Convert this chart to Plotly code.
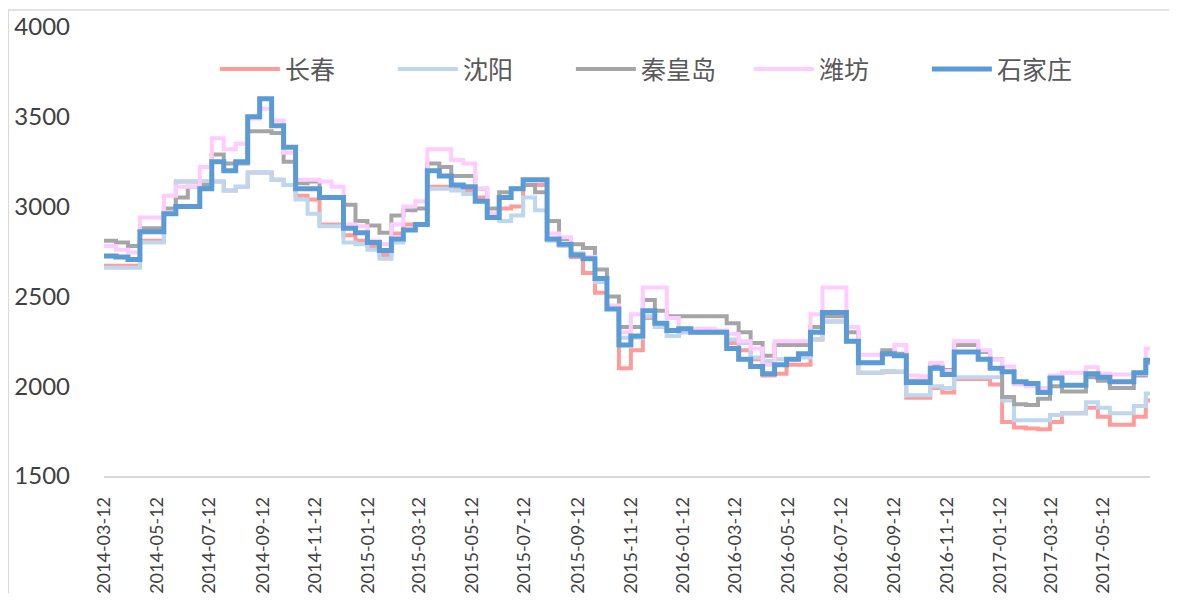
"""Steel price curves by city (step lines)"""

import pandas as pd
import plotly.graph_objects as go

# roughly biweekly sample dates
start_date = "2014-03-12"
last_sample = "2017-07-14"
end_date = "2017-07-05"

tick_labels = [
    "2014-03-12", "2014-05-12", "2014-07-12", "2014-09-12", "2014-11-12",
    "2015-01-12", "2015-03-12", "2015-05-12", "2015-07-12", "2015-09-12",
    "2015-11-12", "2016-01-12", "2016-03-12", "2016-05-12", "2016-07-12",
    "2016-09-12", "2016-11-12", "2017-01-12", "2017-03-12", "2017-05-12",
]

changchun = [
    2670, 2670, 2670, 2810, 2810, 2960, 3140, 3140, 3140, 3140,
    3090, 3110, 3190, 3190, 3150, 3120, 3060, 3040, 2900, 2900,
    2840, 2810, 2780, 2730, 2850, 2900, 2900, 3110, 3110, 3100,
    3090, 3050, 2960, 2990, 3000, 3120, 3120, 2820, 2790, 2720,
    2630, 2520, 2440, 2100, 2200, 2380, 2330, 2280, 2300, 2300,
    2300, 2300, 2240, 2200, 2150, 2060, 2070, 2120, 2120, 2260,
    2360, 2360, 2250, 2075, 2075, 2080, 2080, 1935, 1935, 1990,
    1965, 2040, 2040, 2040, 2010, 1800, 1770, 1765, 1760, 1800,
    1850, 1850, 1880, 1830, 1785, 1785, 1830, 1920, 1920,
]
shenyang = [
    2660, 2660, 2660, 2800, 2800, 2960, 3140, 3140, 3140, 3140,
    3090, 3110, 3190, 3190, 3150, 3120, 3040, 2960, 2890, 2890,
    2800, 2790, 2760, 2710, 2800, 2870, 2900, 3100, 3100, 3090,
    3070, 3030, 2950, 2920, 2950, 3050, 2980, 2810, 2780, 2740,
    2720, 2580, 2430, 2270, 2270, 2390, 2330, 2280, 2300, 2300,
    2300, 2300, 2260, 2240, 2160, 2140, 2150, 2150, 2160, 2260,
    2360, 2360, 2250, 2075, 2075, 2085, 2080, 1950, 1950, 2000,
    1990, 2050, 2050, 2050, 2050, 1920, 1810, 1810, 1810, 1840,
    1850, 1850, 1910, 1880, 1850, 1850, 1890, 1960, 1960,
]
qinhuangdao = [
    2810, 2800, 2780, 2880, 2880, 2990, 3050, 3110, 3120, 3290,
    3240, 3240, 3420, 3420, 3410, 3250, 3130, 3140, 3050, 3050,
    3010, 2920, 2895, 2855, 2950, 2980, 2990, 3240, 3220, 3170,
    3170, 3100, 2990, 3080, 3100, 3120, 3080, 2920, 2820, 2790,
    2770, 2650, 2500, 2330, 2330, 2480, 2420, 2390, 2390, 2390,
    2390, 2390, 2350, 2300, 2240, 2170, 2230, 2230, 2230, 2330,
    2390, 2390, 2300, 2130, 2130, 2200, 2180, 2030, 2030, 2120,
    2090, 2230, 2230, 2190, 2150, 1940, 1900, 1895, 1930, 2000,
    1970, 1970, 2050, 2030, 1990, 1990, 2060, 2130, 2130,
]
weifang = [
    2780, 2760, 2745, 2940, 2940, 3060, 3110, 3110, 3220, 3380,
    3320, 3350, 3490, 3545, 3480, 3300, 3150, 3150, 3140, 3110,
    2900, 2890, 2810, 2790, 2900, 3000, 3030, 3320, 3320, 3260,
    3240, 3100, 2960, 3050, 3100, 3145, 3145, 2850, 2830, 2730,
    2720, 2600, 2450, 2300, 2400, 2550, 2550, 2380, 2320, 2320,
    2320, 2310, 2290, 2250, 2210, 2120, 2250, 2250, 2250, 2400,
    2550, 2550, 2330, 2175, 2175, 2175, 2230, 2060, 2055, 2130,
    2085, 2250, 2250, 2200, 2150, 2110, 2010, 2000, 1990, 2060,
    2075, 2075, 2105, 2070, 2065, 2065, 2070, 2210, 2210,
]
shijiazhuang = [
    2725, 2720, 2705, 2860, 2860, 2960, 3000, 3000, 3100, 3250,
    3200, 3250, 3500, 3600, 3450, 3330, 3100, 3100, 3050, 3050,
    2880, 2855, 2800, 2755, 2820, 2870, 2900, 3200, 3170, 3120,
    3110, 3030, 2940, 3050, 3100, 3150, 3150, 2820, 2790, 2730,
    2710, 2600, 2430, 2230, 2280, 2420, 2350, 2310, 2320, 2300,
    2300, 2300, 2210, 2150, 2110, 2070, 2120, 2150, 2180, 2300,
    2410, 2410, 2250, 2130, 2130, 2180, 2170, 2020, 2020, 2100,
    2065, 2190, 2190, 2150, 2100, 2080, 2025, 2015, 1965, 2045,
    2005, 2005, 2070, 2050, 2025, 2025, 2075, 2145, 2145,
]

series = {
    "长春": (changchun, "#FF9B9B", 4),
    "沈阳": (shenyang, "#BDD7EE", 4),
    "秦皇岛": (qinhuangdao, "#A5A5A5", 4),
    "潍坊": (weifang, "#FFCCFF", 4),
    "石家庄": (shijiazhuang, "#5B9BD5", 5),
}

figure = go.Figure()
for name, (values, color, width) in series.items():
    dates = pd.date_range(start_date, last_sample, periods=len(values))
    figure.add_trace(go.Scatter(
        x=dates,
        y=values,
        name=name,
        mode="lines",
        line={"color": color, "width": width, "shape": "hv"},
    ))

# page body has an 8px margin, so the figure is smaller than the window
figure.update_layout(
    width=1161,
    height=585,
    margin={"l": 96, "r": 19, "t": 19, "b": 117},
    paper_bgcolor="white",
    plot_bgcolor="white",
    font={"family": "Lato, 'Noto Sans CJK SC', sans-serif", "color": "#404040"},
    legend={
        "orientation": "h",
        "x": 0.106, "y": 0.906,
        "xanchor": "left", "yanchor": "middle",
        "font": {"family": "'Noto Sans CJK SC', sans-serif", "size": 25, "color": "#595959"},
        "itemwidth": 60,
        "entrywidth": 103,
        "bgcolor": "rgba(0,0,0,0)",
    },
    xaxis={
        "type": "date",
        "range": [start_date, end_date],
        "tickvals": tick_labels,
        "ticktext": tick_labels,
        "tickangle": -90,
        "tickfont": {"size": 18},
        "showgrid": False,
        "showline": True,
        "linecolor": "#D9D9D9",
        "linewidth": 1.5,
        "ticks": "",
        "ticklabelstandoff": 12,
        "automargin": False,
    },
    yaxis={
        "range": [1500, 4000],
        "dtick": 500,
        "tickfont": {"size": 24},
        "showgrid": False,
        "zeroline": False,
        "showline": False,
        "ticks": "",
        "ticklabelstandoff": 33,
        "automargin": False,
    },
    shapes=[{
        "type": "rect", "xref": "paper", "yref": "paper",
        "x0": -0.0915, "x1": 1.05, "y0": -0.4, "y1": 1.038,
        "line": {"color": "#D9D9D9", "width": 1.5},
        "layer": "below",
    }],
)

figure.write_html("out.html")
